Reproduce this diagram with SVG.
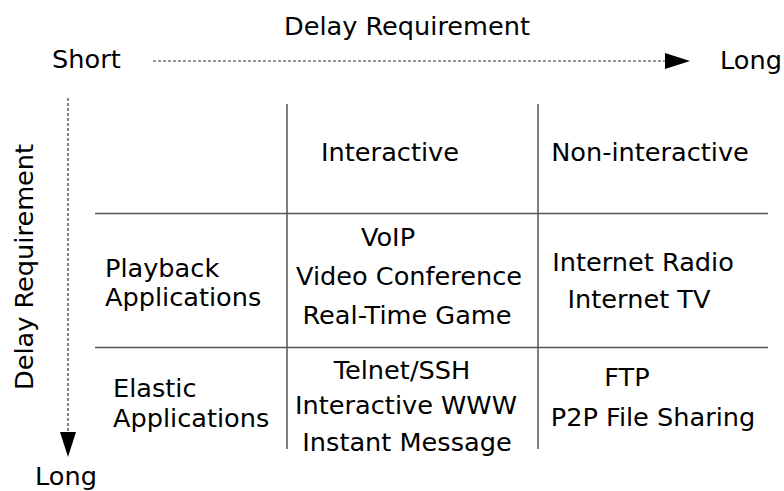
<svg xmlns="http://www.w3.org/2000/svg" width="784" height="491" viewBox="0 0 784 491">
<style>
text{font-family:"DejaVu Sans",sans-serif;font-size:25.6px;fill:#000}
.m{text-anchor:middle}
.grid{stroke:#555;stroke-width:1.5;fill:none}
.dot{stroke:#333;stroke-width:1.2;stroke-dasharray:3,2;fill:none}
</style>
<defs>
<marker id="ah" viewBox="0 0 25 16" refX="0" refY="8" markerWidth="25" markerHeight="16" markerUnits="userSpaceOnUse" orient="auto">
<path d="M0,0 L25,8 L0,16 Z" fill="#000"/>
</marker>
</defs>
<rect width="784" height="491" fill="#fff"/>
<g id="axes">
<text class="m" x="407" y="35">Delay Requirement</text>
<text x="52" y="68">Short</text>
<text x="720" y="69">Long</text>
<text class="m" transform="translate(33,267) rotate(-90)">Delay Requirement</text>
<text x="35" y="485">Long</text>
</g>
<g id="connectors">
<line class="dot" x1="153" y1="61" x2="665" y2="61" marker-end="url(#ah)"/>
<line class="dot" x1="68" y1="98" x2="68" y2="432" marker-end="url(#ah)"/>
</g>
<g id="grid">
<line class="grid" x1="287" y1="104" x2="287" y2="449"/>
<line class="grid" x1="538" y1="104" x2="538" y2="449"/>
<line class="grid" x1="95" y1="213.5" x2="768" y2="213.5"/>
<line class="grid" x1="95" y1="347.5" x2="768" y2="347.5"/>
</g>
<g id="header-interactive"><text class="m" x="390" y="161">Interactive</text></g>
<g id="header-noninteractive"><text class="m" x="650" y="161">Non-interactive</text></g>
<g id="row-playback"><text x="105" y="277">Playback</text><text x="105" y="306">Applications</text></g>
<g id="row-elastic"><text x="113" y="397">Elastic</text><text x="113" y="427">Applications</text></g>
<g id="cell-playback-interactive">
<text class="m" x="388" y="246">VoIP</text>
<text class="m" x="409" y="285">Video Conference</text>
<text class="m" x="407" y="324">Real-Time Game</text>
</g>
<g id="cell-playback-noninteractive">
<text class="m" x="643" y="271">Internet Radio</text>
<text class="m" x="639" y="308">Internet TV</text>
</g>
<g id="cell-elastic-interactive">
<text class="m" x="402" y="379">Telnet/SSH</text>
<text class="m" x="406" y="414">Interactive WWW</text>
<text class="m" x="407" y="451">Instant Message</text>
</g>
<g id="cell-elastic-noninteractive">
<text class="m" x="627" y="386">FTP</text>
<text class="m" x="653" y="426">P2P File Sharing</text>
</g>
</svg>
